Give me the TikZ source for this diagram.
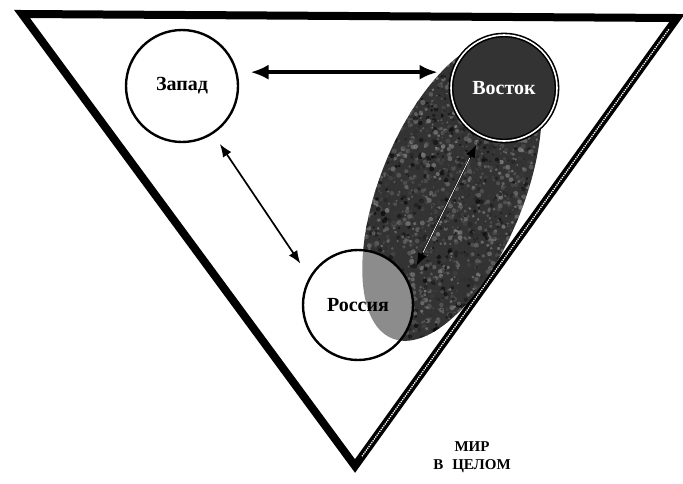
\documentclass[tikz,border=0pt]{standalone}
\usepackage{fontspec}
\setmainfont{Liberation Serif}
\usetikzlibrary{arrows.meta}
\begin{document}
\begin{tikzpicture}[x=1pt,y=-1pt,
  ring/.style={circle, draw=black, line width=2.4pt, minimum size=112pt, inner sep=0pt,
    font=\bfseries\fontsize{20}{24}\selectfont},
  bigarrow/.style={{Latex[length=18pt,width=15pt]}-{Latex[length=18pt,width=15pt]}, line width=3.5pt},
  thinarrow/.style={{Latex[length=13pt,width=10pt]}-{Latex[length=13pt,width=10pt]}, line width=1.7pt},
  caption/.style={font=\bfseries\fontsize{15}{18}\selectfont, inner sep=0pt},
  blob/.style={rotate around={68:(452,190)}}]
\useasboundingbox (0,0) rectangle (683,483);
\fill[white] (0,0) rectangle (683,483);
% outer triangle
\coordinate (A) at (22,14);
\coordinate (B) at (677,18);
\coordinate (C) at (355,466);
\draw[line width=8pt, line join=miter] (A) -- (B) -- (C) -- cycle;
\draw[white, line width=1.3pt, densely dotted, shorten <=14pt, shorten >=12pt] (B) -- (C);
% dark ellipse with texture
\fill[black!80, blob] (452,190) ellipse (160 and 72);
\pgfmathsetseed{11}
\begin{scope}
  \clip[blob] (452,190) ellipse (160 and 72);
  \begin{scope}[blob]
    \foreach \i in {1,...,2500}{
      \pgfmathsetmacro{\pu}{452+160*rand}
      \pgfmathsetmacro{\pv}{190+72*rand}
      \pgfmathrandominteger{\g}{40}{100}
      \pgfmathsetmacro{\rr}{0.8+1.8*rnd}
      \fill[black!\g, opacity=0.6] (\pu,\pv) circle (\rr pt);
    }
  \end{scope}
\end{scope}
% overlap of ellipse and Russia circle
\begin{scope}
  \clip (358,305) circle (55);
  \fill[white] (358,305) circle (55);
  \fill[black!45, blob] (452,190) ellipse (160 and 72);
\end{scope}
% circles
\node[ring, fill=white] (zapad) at (182,86) {Запад};
\node[ring, minimum size=110pt] (rossiya) at (358,305) {Россия};
\node[ring, minimum size=106pt, fill=black!80, line width=1.6pt, double=white, double distance=1.6pt,
  text=white!85] (vostok) at (504,88) {Восток};
% connectors
\draw[bigarrow, shorten <=13pt, shorten >=15pt] (zapad.14) -- (zapad.14 -| vostok.163);
\draw[thinarrow, shorten <=12pt, shorten >=16pt] (zapad.-57) -- (rossiya.150);
\draw[thinarrow, shorten <=9pt, shorten >=17pt] (vostok.-116) -- (rossiya.25);
\draw[white, line width=0.7pt, shorten <=24pt, shorten >=32pt] (vostok.-116) -- (rossiya.25);
% caption
\node[caption] (mir) at (472,447) {МИР};
\node[caption] (celom) at (472,466) {В\hspace{9pt}ЦЕЛОМ};
\end{tikzpicture}
\end{document}
